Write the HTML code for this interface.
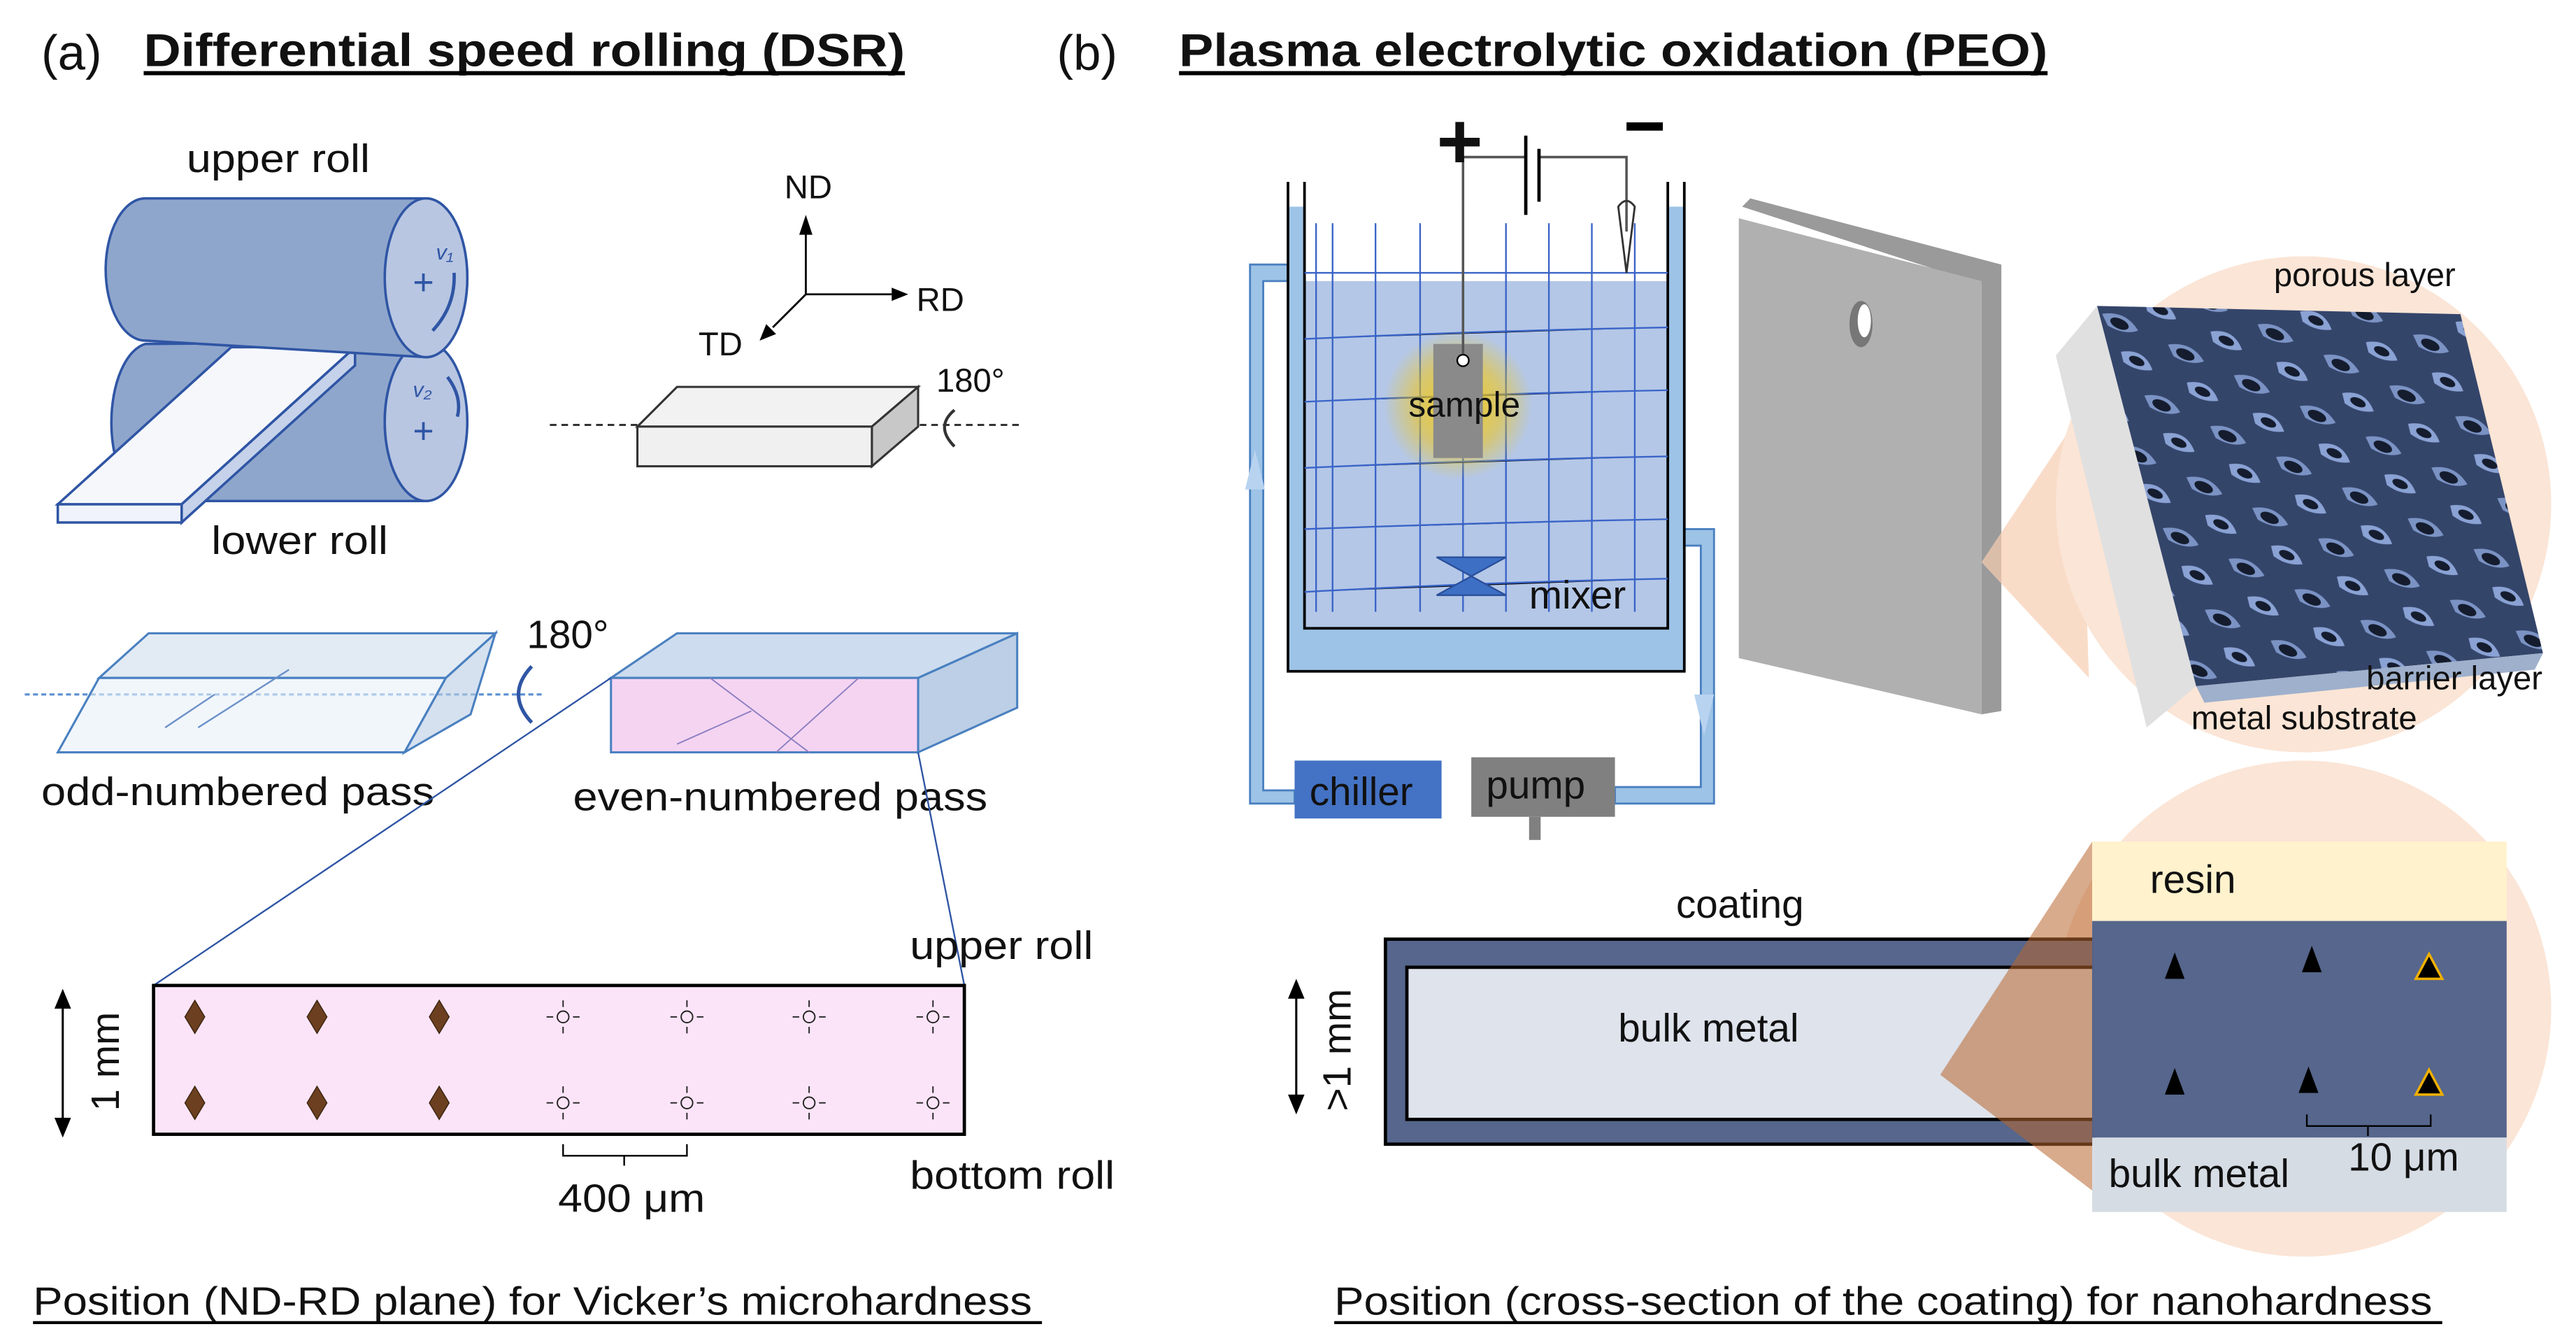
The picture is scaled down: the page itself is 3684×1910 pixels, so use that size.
<!DOCTYPE html>
<html><head><meta charset="utf-8"><style>
html,body{margin:0;padding:0;background:#fff;}
svg{display:block;}
text{font-family:"Liberation Sans",sans-serif;fill:#111;}
</style></head><body>
<svg width="3684" height="1910" viewBox="0 0 1560 808" preserveAspectRatio="none" xmlns="http://www.w3.org/2000/svg">
<defs>
<radialGradient id="glow"><stop offset="0" stop-color="#ffd000" stop-opacity="0.9"/><stop offset="0.6" stop-color="#f7c600" stop-opacity="0.5"/><stop offset="1" stop-color="#f7c600" stop-opacity="0"/></radialGradient>
<pattern id="pores" width="44" height="34" patternUnits="userSpaceOnUse" patternTransform="rotate(25)">
<rect width="44" height="34" fill="#34456a"/>
<path d="M2,8 Q14,0 26,8 Q20,14 8,13Z" fill="#7b93c4"/>
<ellipse cx="14" cy="9" rx="6" ry="3" fill="#141c2e"/>
<path d="M22,24 Q34,16 44,26 Q36,31 26,29Z" fill="#8aa2d4"/>
<ellipse cx="33" cy="25" rx="5" ry="2.5" fill="#141c2e"/>
</pattern>
</defs>

<!-- Titles -->
<text x="25" y="42" font-size="30">(a)</text>
<text x="87" y="40" font-size="28" font-weight="bold" textLength="461" lengthAdjust="spacingAndGlyphs">Differential speed rolling (DSR)</text>
<rect x="87" y="43" width="461" height="2.5" fill="#000"/>
<text x="640" y="42" font-size="30">(b)</text>
<text x="714" y="40" font-size="28" font-weight="bold" textLength="526" lengthAdjust="spacingAndGlyphs">Plasma electrolytic oxidation (PEO)</text>
<rect x="714" y="43" width="526" height="2.5" fill="#000"/>

<!-- Rolls -->
<text x="113" y="104" font-size="24" textLength="111" lengthAdjust="spacingAndGlyphs">upper roll</text>
<g stroke="#2f55a4" stroke-width="1.5">
<path d="M88,208 L258,207 A25,48 0 0 0 258,303 L88,303 A24,48 0 0 1 88,208Z" fill="#8fa6cc"/>
<ellipse cx="258" cy="255" rx="25" ry="48" fill="#b8c6e2"/>
<path d="M35,305 L110,305 L215,210 L140,210Z" fill="#f5f7fb"/>
<path d="M110,305 L110,316 L215,221 L215,210Z" fill="#c5d2ea"/>
<rect x="35" y="305" width="75" height="11" fill="#f0f3fa"/>
<path d="M88,120 L258,120 A25,48 0 0 1 258,216 L88,206 A24,43 0 0 1 88,120Z" fill="#8fa6cc"/>
<ellipse cx="258" cy="168" rx="25" ry="48" fill="#b8c6e2"/>
</g>
<text x="250" y="178" font-size="22" style="fill:#2f55a4">+</text>
<text x="250" y="268" font-size="22" style="fill:#2f55a4">+</text>
<text x="264" y="157" font-size="13" font-style="italic" font-family="Liberation Serif" style="fill:#2f55a4">v₁</text>
<text x="250" y="240" font-size="13" font-style="italic" font-family="Liberation Serif" style="fill:#2f55a4">v₂</text>
<path d="M262,200 Q276,185 275,165" stroke="#2f55a4" stroke-width="2" fill="none"/>
<path d="M271,228 Q280,240 277,252" stroke="#2f55a4" stroke-width="2" fill="none"/>
<text x="128" y="335" font-size="24" textLength="107" lengthAdjust="spacingAndGlyphs">lower roll</text>

<!-- axes -->
<g stroke="#000" stroke-width="1.2" fill="none">
<path d="M488,178 L488,138"/><path d="M488,178 L540,178"/><path d="M488,178 L468,198"/>
</g>
<path d="M484,142 L488,130 L492,142Z M540,174 L550,178 L540,182Z M464,196 L460,206 L470,202Z"/>
<text x="475" y="120" font-size="20">ND</text>
<text x="555" y="188" font-size="20">RD</text>
<text x="423" y="215" font-size="20">TD</text>
<path d="M333,257 L618,257" stroke="#333" stroke-width="1.3" stroke-dasharray="4,3"/>
<g stroke="#333" stroke-width="1.3">
<path d="M386,258 L410,234 L556,234 L528,258Z" fill="#f2f2f2"/>
<path d="M528,258 L556,234 L556,258 L528,282Z" fill="#c8c8c8"/>
<rect x="386" y="258" width="142" height="24" fill="#f0f0f0"/>
</g>
<text x="567" y="237" font-size="20">180°</text>
<path d="M578,248 Q566,258 578,270" stroke="#333" stroke-width="1.8" fill="none"/>

<!-- passes -->
<path d="M15,420 L330,420" stroke="#5b8fd0" stroke-width="1.3" stroke-dasharray="3,2"/>
<g stroke="#4a80c0" stroke-width="1.3" fill="#cfdded" fill-opacity="0.6">
<path d="M60,410 L90,383 L300,383 L270,410Z"/>
<path d="M35,455 L60,410 L270,410 L245,455Z" fill="#e8f0f8"/>
<path d="M245,455 L270,410 L300,383 L285,432Z" fill="#b9cde4"/>
</g>
<path d="M100,440 L130,420 M120,440 L175,405" stroke="#6a90c8" stroke-width="1"/>
<text x="319" y="392" font-size="24">180°</text>
<path d="M322,403 Q306,420 322,437" stroke="#2f55a4" stroke-width="2.2" fill="none"/>
<g stroke="#4a80c0" stroke-width="1.3">
<path d="M370,410 L410,383 L616,383 L556,410Z" fill="#cddcee"/>
<path d="M556,410 L616,383 L616,428 L556,455Z" fill="#bccfe6"/>
<rect x="370" y="410" width="186" height="45" fill="#f3cdf0" fill-opacity="0.85"/>
</g>
<path d="M430,410 L490,455 M520,410 L470,455 M410,450 L455,430" stroke="#8a7fc0" stroke-width="0.8"/>
<text x="25" y="487" font-size="24" textLength="238" lengthAdjust="spacingAndGlyphs">odd-numbered pass</text>
<text x="347" y="490" font-size="24" textLength="251" lengthAdjust="spacingAndGlyphs">even-numbered pass</text>
<path d="M370,410 L93,596 M556,455 L584,596" stroke="#2f55a4" stroke-width="1"/>

<!-- pink rect -->
<rect x="93" y="596" width="491" height="90" fill="#fce4f8" stroke="#000" stroke-width="2"/>
<g fill="#6b3f1f" stroke="#3a2410" stroke-width="0.6">
<path d="M118,605 L124,615 L118,625 L112,615Z M192,605 L198,615 L192,625 L186,615Z M266,605 L272,615 L266,625 L260,615Z"/>
<path d="M118,657 L124,667 L118,677 L112,667Z M192,657 L198,667 L192,677 L186,667Z M266,657 L272,667 L266,677 L260,667Z"/>
</g>
<g fill="none" stroke="#222" stroke-width="0.8">
<circle cx="341" cy="615" r="3.5"/><circle cx="416" cy="615" r="3.5"/><circle cx="490" cy="615" r="3.5"/><circle cx="565" cy="615" r="3.5"/>
<circle cx="341" cy="667" r="3.5"/><circle cx="416" cy="667" r="3.5"/><circle cx="490" cy="667" r="3.5"/><circle cx="565" cy="667" r="3.5"/>
<path d="M341,605V609M341,621V625M331,615H335M347,615H351M416,605V609M416,621V625M406,615H410M422,615H426M490,605V609M490,621V625M480,615H484M496,615H500M565,605V609M565,621V625M555,615H559M571,615H575"/>
<path d="M341,657V661M341,673V677M331,667H335M347,667H351M416,657V661M416,673V677M406,667H410M422,667H426M490,657V661M490,673V677M480,667H484M496,667H500M565,657V661M565,673V677M555,667H559M571,667H575"/>
</g>
<path d="M38,604 L38,682" stroke="#000" stroke-width="1.3"/>
<path d="M33,610 L38,598 L43,610Z M33,676 L38,688 L43,676Z"/>
<text transform="translate(72,642) rotate(-90)" font-size="24" text-anchor="middle">1 mm</text>
<path d="M341,692 L341,699 L416,699 L416,692 M378,699 L378,705" stroke="#000" stroke-width="1" fill="none"/>
<text x="338" y="733" font-size="24" textLength="89" lengthAdjust="spacingAndGlyphs">400 μm</text>
<text x="551" y="580" font-size="24" textLength="111" lengthAdjust="spacingAndGlyphs">upper roll</text>
<text x="551" y="719" font-size="24" textLength="124" lengthAdjust="spacingAndGlyphs">bottom roll</text>
<text x="20" y="795" font-size="24" textLength="605" lengthAdjust="spacingAndGlyphs">Position (ND-RD plane) for Vicker’s microhardness</text>
<rect x="20" y="799" width="611" height="1.8" fill="#000"/>

<!-- PEO tank -->
<g stroke="#4a80c0" stroke-width="1.2" fill="#9dc3e6">
<path d="M757,160 L780,160 L780,170 L765,170 L765,478 L784,478 L784,486 L757,486Z"/>
<path d="M1020,320 L1038,320 L1038,486 L978,486 L978,476 L1030,476 L1030,330 L1020,330Z"/>
</g>
<rect x="780" y="125" width="240" height="281" fill="#9dc3e6"/>
<rect x="790" y="125" width="220" height="255" fill="#fff"/>
<rect x="790" y="170" width="220" height="210" fill="#b4c7e7"/>
<path d="M780,110 L780,406 L1020,406 L1020,110 M790,110 L790,380 L1010,380 L1010,110" stroke="#000" stroke-width="1.6" fill="none"/>
<g stroke="#3a64c8" stroke-width="1">
<path d="M797,135 V370 M807,135V370 M833,135V370 M860,135V370 M886,135V370 M912,135V370 M938,135V370 M964,135V370 M990,135V370"/>
<path d="M790,165 L1010,165 M790,205 Q900,200 1010,198 M790,243 Q900,238 1010,236 M790,283 Q900,278 1010,276 M790,320 Q900,316 1010,314 M790,358 Q900,352 1010,350"/>
</g>
<path d="M760,272 L754,296 L766,296Z" fill="#b8d3f0"/>
<path d="M1026,420 L1038,420 L1032,445Z" fill="#b8d3f0"/>
<circle cx="883" cy="245" r="45" fill="url(#glow)"/>
<rect x="868" y="208" width="30" height="69" fill="#8a8a8a"/>
<circle cx="886" cy="218" r="3.5" fill="#fff" stroke="#000"/>
<text x="853" y="252" font-size="21">sample</text>
<path d="M886,214 L886,95 L924,95 M932,95 L985,95 L985,140" stroke="#555" stroke-width="1.5" fill="none"/>
<path d="M924,82 L924,130 M932,90 L932,122" stroke="#000" stroke-width="2"/>
<path d="M980,125 L985,165 L990,125 Q985,118 980,125Z" fill="none" stroke="#333" stroke-width="1.2"/>
<text x="870" y="102" font-size="48" font-weight="bold">+</text>
<rect x="985" y="74" width="22" height="5" fill="#000"/>
<path d="M870,337 L912,337 L870,360 L912,360Z" fill="#3d6fc5" stroke="#2a4f9a"/>
<text x="926" y="368" font-size="24">mixer</text>
<rect x="784" y="460" width="89" height="35" fill="#4472c4"/>
<text x="793" y="487" font-size="24">chiller</text>
<rect x="891" y="458" width="87" height="36" fill="#808080"/>
<rect x="926" y="494" width="7" height="14" fill="#808080"/>
<text x="900" y="483" font-size="24">pump</text>

<!-- plate -->
<path d="M1055,125 L1060,120 L1212,160 L1212,430 L1200,432 L1200,172Z" fill="#9a9a9a"/>
<path d="M1053,132 L1200,170 L1200,432 L1053,398Z" fill="#b0b0b0"/>
<ellipse cx="1127" cy="196" rx="7" ry="14" fill="#777"/>
<ellipse cx="1129" cy="194" rx="4" ry="10" fill="#fff"/>

<!-- upper magnifier -->
<path d="M1200,340 L1260,250 L1265,410Z" fill="#f6cdb0" opacity="0.7"/>
<circle cx="1395" cy="305" r="150" fill="#fbe5d6"/>
<path d="M1245,215 L1270,185 L1330,415 L1300,440Z" fill="#e0e0e0"/>
<path d="M1270,185 L1290,200 L1345,410 L1330,415Z" fill="#8ca0bf"/>
<path d="M1270,185 L1490,190 L1540,395 L1330,415Z" fill="url(#pores)"/>
<path d="M1330,415 L1540,395 L1535,405 L1335,425Z" fill="#9eb0cc"/>
<text x="1377" y="173" font-size="20">porous layer</text>
<text x="1433" y="417" font-size="20">barrier layer</text>
<text x="1327" y="441" font-size="20">metal substrate</text>

<!-- lower -->
<circle cx="1395" cy="610" r="150" fill="#fbe5d6"/>
<rect x="839" y="568" width="429" height="124" fill="#56668c" stroke="#000" stroke-width="2"/>
<rect x="852" y="585" width="416" height="92" fill="#dee3ec" stroke="#000" stroke-width="2"/>
<path d="M1175,650 L1267,509 L1267,720 Z" fill="#b8662e" opacity="0.55"/>
<text x="1015" y="555" font-size="24">coating</text>
<text x="980" y="630" font-size="24">bulk metal</text>
<path d="M785,598 L785,668" stroke="#000" stroke-width="1.3"/>
<path d="M780,604 L785,592 L790,604Z M780,662 L785,674 L790,662Z"/>
<text transform="translate(818,635) rotate(-90)" font-size="24" text-anchor="middle">&gt;1 mm</text>
<rect x="1267" y="509" width="251" height="48" fill="#fff2cc"/>
<rect x="1267" y="557" width="251" height="131" fill="#56668c"/>
<rect x="1267" y="688" width="251" height="45" fill="#d6dce4"/>
<text x="1302" y="540" font-size="24">resin</text>
<g fill="#000">
<path d="M1317,576 L1323,592 L1311,592Z M1400,572 L1406,588 L1394,588Z M1317,646 L1323,662 L1311,662Z M1398,645 L1404,661 L1392,661Z"/>
</g>
<path d="M1471,577 L1479,592 L1463,592Z M1471,647 L1479,662 L1463,662Z" fill="#000" stroke="#f0b000" stroke-width="1.5"/>
<path d="M1397,674 L1397,681 L1472,681 L1472,674 M1434,681 L1434,687" stroke="#000" stroke-width="1" fill="none"/>
<text x="1422" y="708" font-size="24">10 μm</text>
<text x="1277" y="718" font-size="24">bulk metal</text>
<text x="808" y="795" font-size="24" textLength="665" lengthAdjust="spacingAndGlyphs">Position (cross-section of the coating) for nanohardness</text>
<rect x="808" y="799" width="671" height="1.8" fill="#000"/>
</svg>
</body></html>
